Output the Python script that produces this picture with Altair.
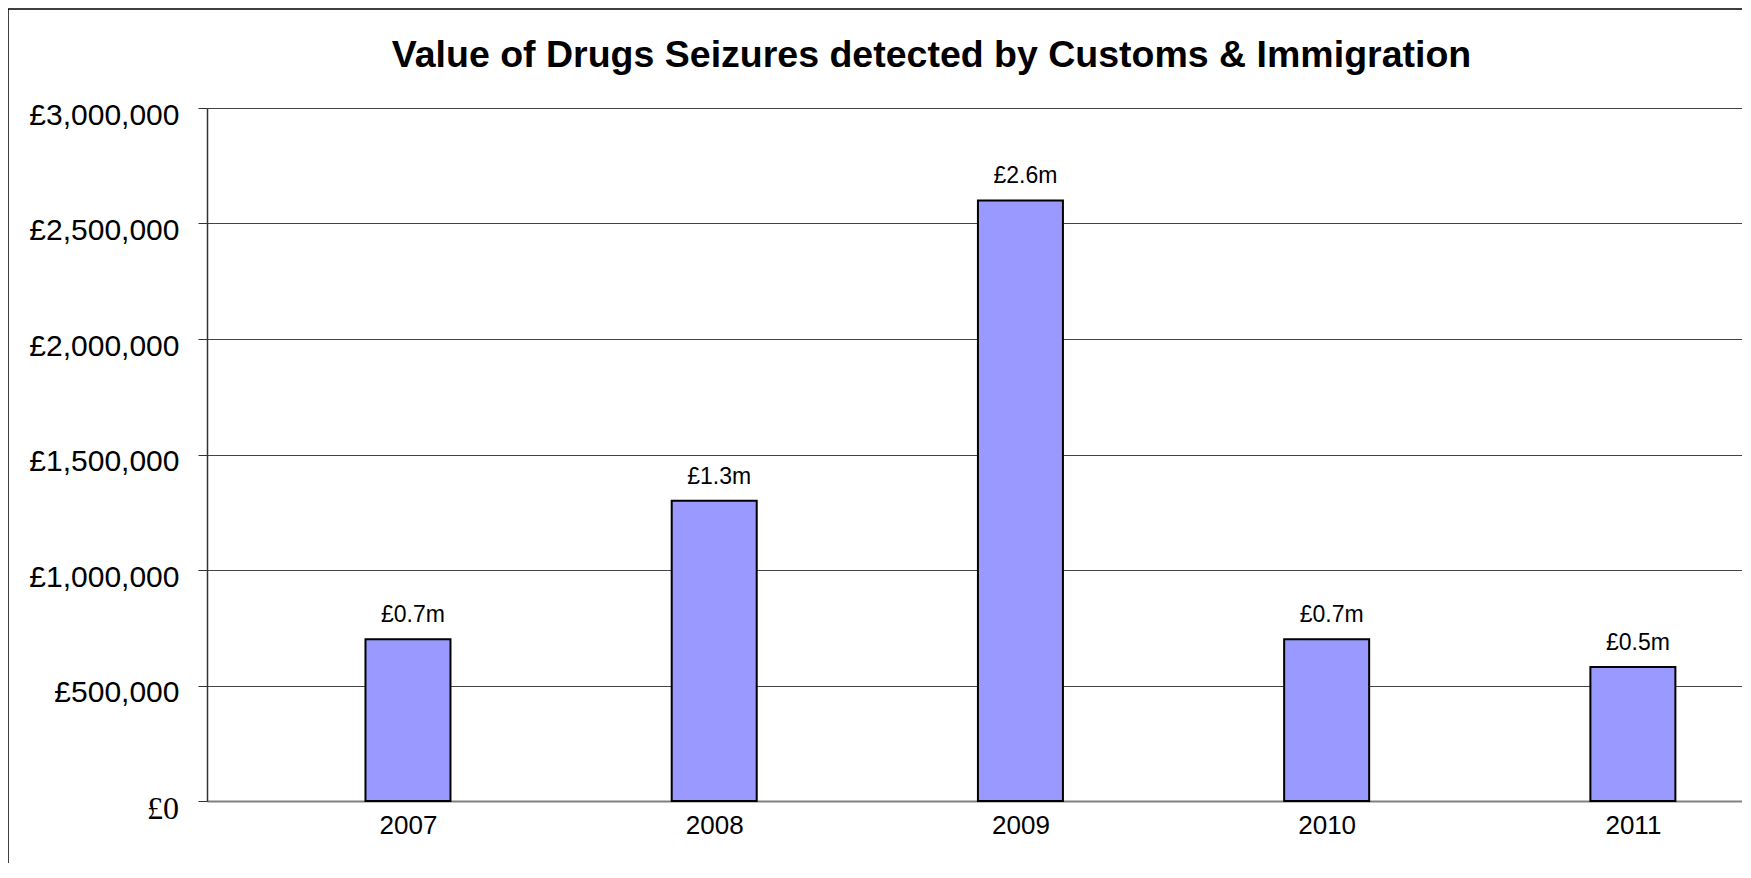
import altair as alt
import pandas as pd

years = [2007, 2008, 2009, 2010, 2011]
values = [700000, 1300000, 2600000, 700000, 580000]
value_labels = ["£0.7m", "£1.3m", "£2.6m", "£0.7m", "£0.5m"]
y_ticks = [0, 500000, 1000000, 1500000, 2000000, 2500000, 3000000]
zero_label = ["£0"]
title_text = "Value of Drugs Seizures detected by Customs & Immigration"

df = pd.DataFrame({"year": years, "value": values, "label": value_labels})
zero_df = pd.DataFrame({"value": y_ticks[:1], "label": zero_label})

W, H = 1535, 693
FONT = "Liberation Sans"
TICK, PAD = 9, 19

x_enc = alt.X(
    "year:Q",
    scale=alt.Scale(domain=[2006.36, 2011.34], nice=False, zero=False),
    axis=alt.Axis(
        values=years, format="d", title=None, grid=False, ticks=False,
        domainColor="#808080", domainWidth=2, labelFontSize=26,
        labelFont=FONT, labelColor="black", labelPadding=11,
    ),
)
y_enc = alt.Y(
    "value:Q",
    scale=alt.Scale(domain=[0, 3000000], nice=False),
    axis=alt.Axis(
        values=y_ticks, title=None, grid=True, gridColor="#444444", gridWidth=1,
        domainColor="#333333", domainWidth=1.5, tickColor="#333333", tickSize=TICK,
        labelExpr="datum.value === 0 ? '' : '£' + format(datum.value, ',')",
        labelFontSize=30, labelPadding=PAD, labelOffset=7, labelColor="black",
        labelFont=FONT,
    ),
)

bars = alt.Chart(df).mark_bar(
    size=85, color="#9999FF", stroke="black", strokeWidth=2
).encode(x=x_enc, y=y_enc)

texts = alt.Chart(df).mark_text(
    font=FONT, fontSize=23, color="black", align="center",
    baseline="alphabetic", dx=5, dy=-17
).encode(x="year:Q", y="value:Q", text="label:N")

# "£0" axis label is set in a serif face in the reference
zero_text = alt.Chart(zero_df).mark_text(
    font="'Liberation Serif', 'DejaVu Serif', 'Times New Roman', serif",
    fontSize=32, color="black", align="right", baseline="middle", dy=8
).encode(x=alt.value(-(TICK + PAD)), y="value:Q", text="label:N")

frame = alt.Chart(pd.DataFrame({"a": [0]})).mark_rect(
    filled=False, stroke="black", strokeWidth=1.5
).encode(
    x=alt.value(-199), x2=alt.value(1700), y=alt.value(-99), y2=alt.value(900)
)

chart = alt.layer(bars, texts, zero_text, frame).properties(
    width=W, height=H,
    title=alt.TitleParams(
        title_text, font=FONT, fontSize=37.5, fontWeight="bold", color="black",
        anchor="middle", dx=-43, offset=-96, baseline="alphabetic",
    ),
    autosize=alt.AutoSizeParams(type="none"),
    padding={"left": 199, "top": 100, "right": 0, "bottom": 62},
).configure_view(stroke="#999999", strokeWidth=1.5).configure(background="white")

chart.save("out.html", embed_options={"renderer": "svg", "actions": False})
